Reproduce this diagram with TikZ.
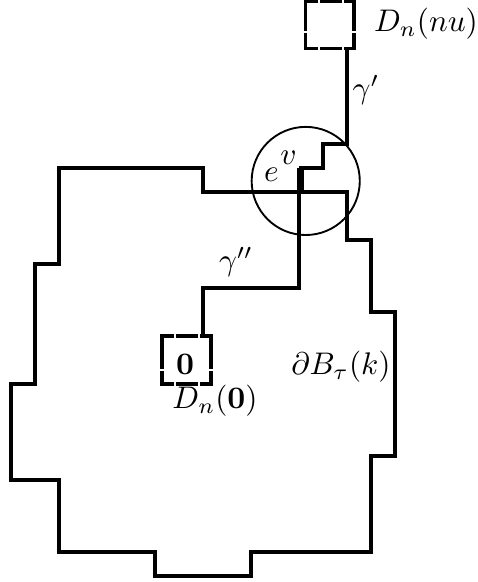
\documentclass[tikz,border=0pt]{standalone}
\usepackage{amsmath,amssymb}
\usepackage{tikz}
\usetikzlibrary{positioning,calc}
\tikzset{
    % lattice paths and boundary
    latline/.style={
        line width=1.12pt,
        draw=black
    },
    % the marked edge e
    edgeline/.style={
        line width=2.2pt,
        draw=black
    },
    % small boxes D_n
    boxnode/.style={
        draw=black,
        line width=1.12pt,
        inner sep=0pt,
        minimum width=15.5pt,
        minimum height=15pt
    },
    % white cuts in the box edges
    gapline/.style={
        draw=white,
        line width=0.4pt
    },
    % circle round the edge
    ringnode/.style={
        circle,
        draw=black,
        line width=0.6pt,
        inner sep=0pt,
        minimum size=34.6pt
    },
    % text labels
    lbl/.style={
        inner sep=0pt,
        font=\normalsize
    }
}
\begin{document}
\begin{tikzpicture}[x=7.68pt, y=-7.68pt]
        \useasboundingbox (-0.458,0) rectangle (19.417,24.25);

        % Boundary of the ball
        \draw[latline] (2,7) -- (8,7) -- (8,8) -- (14,8) -- (14,10) -- (15,10)
            -- (15,13) -- (16,13) -- (16,19) -- (15,19) -- (15,23) -- (10,23)
            -- (10,24) -- (6,24) -- (6,23) -- (2,23) -- (2,20) -- (0,20)
            -- (0,16) -- (1,16) -- (1,11) -- (2,11) -- cycle;

        % Boxes
        \node[boxnode] (boxnu) at (13.29,1.04) {};
        \node[boxnode, minimum height=15.4pt, minimum width=15.7pt] (boxzero) at (7.31,15) {};

        % Cuts in the boxes
        \foreach \gx in {12.83,13.83} {
            \draw[gapline] (\gx,-0.1) -- (\gx,0.25);
            \draw[gapline] (\gx,1.85) -- (\gx,2.15);
        }
        \draw[gapline] (12.15,1.33) -- (12.45,1.33);
        \draw[gapline] (14.13,1.33) -- (14.43,1.33);
        \foreach \gx in {6.83,7.83} {
            \draw[gapline] (\gx,13.85) -- (\gx,14.15);
            \draw[gapline] (\gx,15.85) -- (\gx,16.15);
        }
        \draw[gapline] (6.15,15.42) -- (6.45,15.42);
        \draw[gapline] (8.17,15.42) -- (8.47,15.42);

        % Ends of the edge e
        \coordinate (v) at (12,7);
        \coordinate (w) at (12,8);

        % Paths gamma' and gamma''
        \coordinate (gpstart) at (boxnu.south -| 14,0);
        \coordinate (gppend) at (boxzero.north -| 8,0);
        \draw[latline] (gpstart) -- (14,6) -- (13,6) -- (13,7) -- (v);
        \draw[latline] (w) -- (12,12) -- (8,12) -- (gppend);

        % Edge e and circle
        \draw[edgeline] ([xshift=0.5pt]v) -- ([xshift=0.5pt]w);
        \node[ringnode] (ring) at (12.28,7.54) {};

        % Labels
        \node[lbl] (lnu) at (17.29,1) {$D_n(nu)$};
        \node[lbl] (lgp) at (14.79,3.75) {$\gamma'$};
        \node[lbl] (lgpp) at (9.375,10.92) {$\gamma''$};
        \node[lbl] (le) at (10.85,7.29) {$e$};
        \node[lbl] (lv) at (11.56,6.56) {$v$};
        \node[lbl] (lzero) at (7.25,15.17) {$\mathbf{0}$};
        \node[lbl] (ldzero) at (8.5,16.7) {$D_n(\mathbf{0})$};
        \node[lbl] (lbd) at (13.75,15.29) {$\partial B_\tau(k)$};
    \end{tikzpicture}
\end{document}
